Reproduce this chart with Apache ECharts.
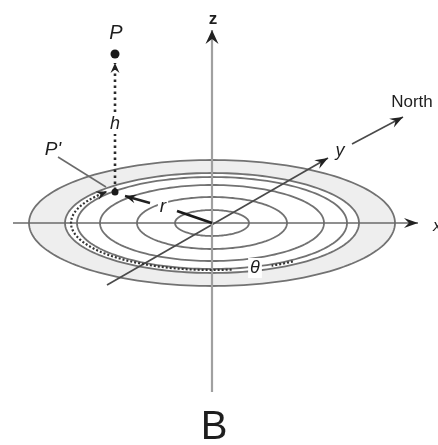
<!DOCTYPE html>
<html><head><meta charset="utf-8">
<script src="https://cdn.jsdelivr.net/npm/echarts@6/dist/echarts.min.js"></script>
<style>html,body{margin:0;padding:0;background:#fff;overflow:hidden}#c{width:438px;height:445px}</style>
</head><body><div id="c"></div>
<script>
// Diagram geometry in a coordinate frame whose origin is the centre of the rings
const ringRx = [183, 147, 135, 112, 75, 37];
const ringRy = [63, 50, 46, 38, 26, 13];
const ringFill = ['#eeeeee', '#ffffff', null, null, null, null];

// axis arrows: x1, y1, x2, y2
const axisZ = [[0, -169, 0, 193]];
const axisX = [[-199, 0, 206, 0]];
const axisY = [[-105, -62, 116, 65]];
const northArrow = [[140, 79, 191, 106]];
const rArrow = [[-62, 20, -87, 27]];
const rSolid = [[-35, 12, 0, 0]];
const pLeader = [[-154, 66, -106, 36]];
const hDotted = [[-97, 33, -97, 160]];

// theta dotted arc: rx, ry, start angle, end angle (degrees)
const thetaArc = [[141, 47, -55, -65], [141, 47, -82, -222]];

// points P and P'
const points = [[-97, 169, 4.5], [-97, 31, 3.5]];

// labels
const labelText = ['z', 'P', 'h', "P'", 'r', 'θ', 'y', 'North', 'x', 'B'];
const labelX = [1, -96, -97, -159, -49, 43, 128, 200, 221, 2];
const labelY = [204, 190, 99, 73, 16, -45, 72, 121, -3, -205];
const labelSize = [17, 20, 18, 19, 19, 18, 18, 17, 17, 40];
const labelItalic = [false, true, true, true, true, true, true, false, true, false];
const labelBold = [true, false, false, false, false, false, false, false, false, false];
const labelAlign = ['center','center','center','center','center','center','center','center','left','center'];
const labelBg = [false, false, true, false, true, true, true, false, false, false];

function arrowHead(p1, p2, len, half, color) {
  const dx = p2[0] - p1[0], dy = p2[1] - p1[1];
  const L = Math.sqrt(dx*dx + dy*dy);
  const ux = dx / L, uy = dy / L, nx = -uy, ny = ux;
  const tip = p2;
  const bx = p2[0] - ux*len, by = p2[1] - uy*len;
  const notch = [p2[0] - ux*len*0.65, p2[1] - uy*len*0.65];
  return {type: 'polygon', shape: {points: [tip, [bx + nx*half, by + ny*half], notch, [bx - nx*half, by - ny*half]]},
    style: {fill: color}};
}

function segSeries(data, color, width, arrow, arrowColor, dash, z) {
  return {
    type: 'custom', data: data, z: z || 2, silent: true,
    renderItem: function (params, api) {
      const p1 = api.coord([api.value(0), api.value(1)]);
      const p2 = api.coord([api.value(2), api.value(3)]);
      const children = [{type: 'line', shape: {x1: p1[0], y1: p1[1], x2: p2[0], y2: p2[1]},
        style: {stroke: color, lineWidth: width, lineDash: dash || null}}];
      if (arrow) children.push(arrowHead(p1, p2, arrow[0], arrow[1], arrowColor || color));
      return {type: 'group', children: children};
    }
  };
}

const series = [];
// rings
series.push({
  type: 'custom', silent: true, z: 1,
  data: ringRx.map((rx, i) => [rx, ringRy[i]]),
  renderItem: function (params, api) {
    const rx = api.value(0), ry = api.value(1);
    const pts = [];
    for (let a = 0; a < 360; a += 2) {
      const t = a * Math.PI / 180;
      pts.push(api.coord([rx * Math.cos(t), ry * Math.sin(t)]));
    }
    const f = ringFill[params.dataIndex];
    return {type: 'polygon', shape: {points: pts},
      style: {fill: f || 'none', stroke: '#727272', lineWidth: 1.8}};
  }
});
// theta dotted arc
series.push({
  type: 'custom', silent: true, z: 3,
  data: thetaArc,
  renderItem: function (params, api) {
    const rx = api.value(0), ry = api.value(1), a0 = api.value(2), a1 = api.value(3);
    const pts = [];
    const step = a1 > a0 ? 2 : -2;
    for (let a = a0; step > 0 ? a <= a1 : a >= a1; a += step) {
      const t = a * Math.PI / 180;
      pts.push(api.coord([rx * Math.cos(t), ry * Math.sin(t)]));
    }
    const children = [{type: 'polyline', shape: {points: pts},
      style: {stroke: '#333', lineWidth: 2.2, lineDash: [2, 2], fill: 'none'}}];
    if (params.dataIndex === thetaArc.length - 1) {
      children.push(arrowHead(pts[pts.length - 3], pts[pts.length - 1], 11, 4.5, '#222'));
    }
    return {type: 'group', children: children};
  }
});
series.push(segSeries(axisX, '#6a6a6a', 1.7, [14, 5], '#222'));
series.push(segSeries(axisY, '#4a4a4a', 1.7, [13, 5], '#222'));
series.push(segSeries(axisZ, '#a0a0a0', 2.2, [14, 6.5], '#222'));
series.push(segSeries(northArrow, '#4a4a4a', 1.6, [13, 5], '#222'));
series.push(segSeries(pLeader, '#6a6a6a', 1.5));
series.push(segSeries(rSolid, '#1a1a1a', 2.8));
series.push(segSeries(rArrow, '#222', 2.4, [11, 4.5], '#1a1a1a'));
series.push(segSeries(hDotted, '#2a2a2a', 2.6, [10, 4.5], '#222', [2.5, 3.5]));
// points
series.push({
  type: 'custom', silent: true, z: 5, data: points,
  renderItem: function (params, api) {
    const p = api.coord([api.value(0), api.value(1)]);
    return {type: 'circle', shape: {cx: p[0], cy: p[1], r: api.value(2)}, style: {fill: '#1a1a1a'}};
  }
});
// labels
series.push({
  type: 'custom', silent: true, z: 6,
  data: labelX.map((x, i) => [x, labelY[i]]),
  renderItem: function (params, api) {
    const i = params.dataIndex;
    const p = api.coord([api.value(0), api.value(1)]);
    return {type: 'text', x: p[0], y: p[1], style: {
      text: labelText[i], fill: '#1e1e1e', fontSize: labelSize[i],
      fontFamily: 'Liberation Sans, Arial, sans-serif',
      fontStyle: labelItalic[i] ? 'italic' : 'normal',
      fontWeight: labelBold[i] ? 'bold' : 'normal',
      backgroundColor: labelBg[i] ? '#ffffff' : null,
      padding: labelBg[i] ? [1, 2] : 0,
      align: labelAlign[i], verticalAlign: 'middle'}};
  }
});

const chart = echarts.init(document.getElementById('c'), null, {renderer: 'canvas'});
chart.setOption({
  animation: false,
  backgroundColor: '#ffffff',
  grid: {left: 0, right: 0, top: 0, bottom: 0},
  xAxis: {type: 'value', min: -212, max: 226, show: false},
  yAxis: {type: 'value', min: -222, max: 223, show: false},
  series: series
});
</script></body></html>
